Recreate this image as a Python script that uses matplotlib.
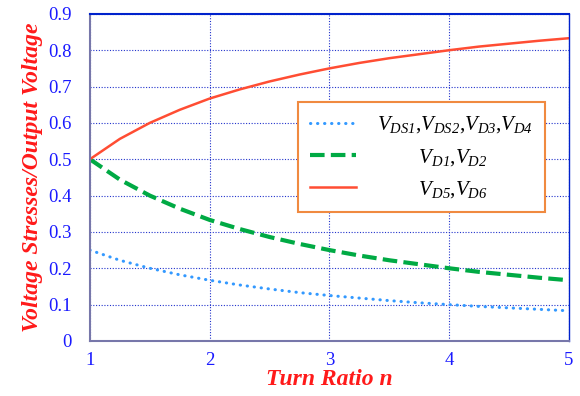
import numpy as np
import matplotlib
matplotlib.use("Agg")
import matplotlib.pyplot as plt

# turn ratio n and the read-off voltage stress ratios
n = [1.0, 1.25, 1.5, 1.75, 2.0, 2.25, 2.5, 2.75, 3.0, 3.25, 3.5, 3.75, 4.0, 4.25, 4.5, 4.75, 5.0]
v_ds = [0.250, 0.222, 0.200, 0.182, 0.167, 0.154, 0.143, 0.133, 0.125, 0.118, 0.111, 0.105,
        0.100, 0.095, 0.091, 0.087, 0.083]
v_d12 = [0.500, 0.444, 0.400, 0.364, 0.333, 0.308, 0.286, 0.267, 0.250, 0.235, 0.222, 0.211,
         0.200, 0.190, 0.182, 0.174, 0.167]
v_d56 = [0.500, 0.556, 0.600, 0.636, 0.667, 0.692, 0.714, 0.733, 0.750, 0.765, 0.778, 0.789,
         0.800, 0.810, 0.818, 0.826, 0.833]

labels = [r"$V_{DS1}$,$V_{DS2}$,$V_{D3}$,$V_{D4}$",
          r"        $V_{D1}$,$V_{D2}$",
          r"        $V_{D5}$,$V_{D6}$"]
xticks = [1, 2, 3, 4, 5]
yticks = [0, 0.1, 0.2, 0.3, 0.4, 0.5, 0.6, 0.7, 0.8, 0.9]

plt.rcParams['font.family'] = ['Liberation Serif', 'DejaVu Serif']
plt.rcParams['mathtext.fontset'] = 'custom'
plt.rcParams['mathtext.rm'] = 'Liberation Serif:italic'
plt.rcParams['mathtext.it'] = 'Liberation Serif:italic'

fig, ax = plt.subplots(figsize=(5.8, 3.96), dpi=100)
fig.subplots_adjust(left=0.155, right=0.981, top=0.965, bottom=0.139)

ax.set_axisbelow(True)
ax.grid(True, linestyle=(0, (1, 1.5)), color='#2233cc', linewidth=0.8)

l1, = ax.plot(n, v_ds, color='#3399ff', lw=2.2, linestyle=(0, (0.1, 2.2)),
              dash_capstyle='round', label=labels[0])
l2, = ax.plot(n, v_d12, color='#00aa44', lw=3, linestyle=(0, (3.5, 1.5)), label=labels[1])
l3, = ax.plot(n, v_d56, color='#ff4d33', lw=1.8, label=labels[2])

ax.set_xlim(1, 5)
ax.set_ylim(0, 0.9)
ax.set_xticks(xticks)
ax.set_yticks(yticks)
ax.set_xticklabels([str(x) for x in xticks])
ax.set_yticklabels(["0" if y == 0 else "%.1f" % y for y in yticks])
ax.tick_params(length=0, labelsize=13.5, labelcolor='#1a1aff')
ax.tick_params(axis='y', pad=13)
ax.tick_params(axis='x', pad=8)

for side in ['left', 'bottom']:
    ax.spines[side].set_color('#7777aa')
    ax.spines[side].set_linewidth(1.5)
ax.spines['top'].set_color('#0022cc')
ax.spines['top'].set_linewidth(1.5)
ax.spines['right'].set_color('#0022cc')
ax.spines['right'].set_linewidth(1.0)

ax.set_xlabel("Turn Ratio n", color='#ff1a1a', fontsize=17, fontweight='bold',
              fontstyle='italic', labelpad=0)
ax.set_ylabel("Voltage Stresses/Output Voltage", color='#ff1a1a', fontsize=17,
              fontweight='bold', fontstyle='italic', labelpad=4)

leg = ax.legend(handles=[l1, l2, l3], loc='upper left', bbox_to_anchor=(0.434, 0.731),
                fontsize=15, fancybox=False, framealpha=1, edgecolor='#f08a40',
                handlelength=2.2, handletextpad=1.0, labelspacing=0.55,
                borderpad=0.6, borderaxespad=0)
leg.get_frame().set_linewidth(1.5)

plt.savefig("out.png", dpi=100)
